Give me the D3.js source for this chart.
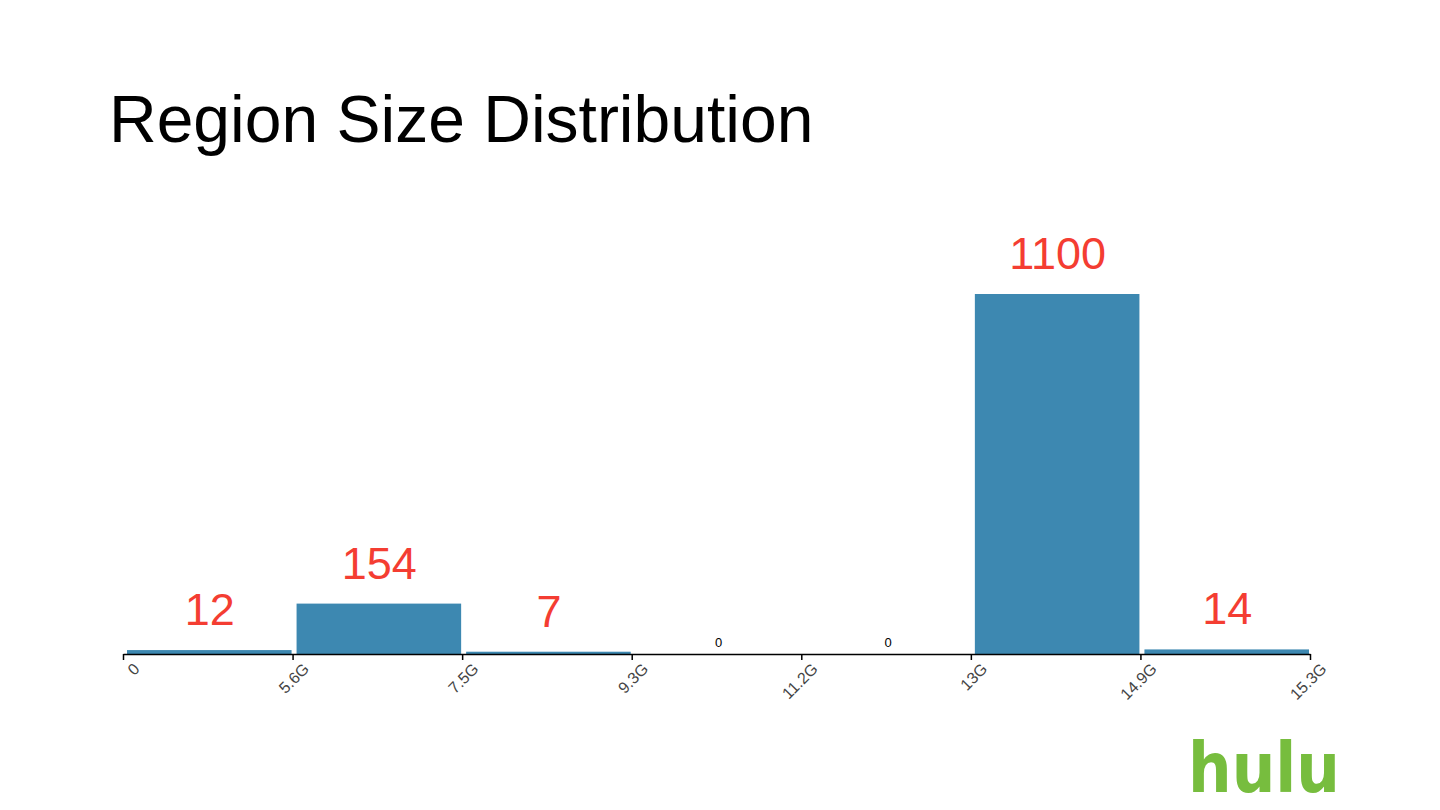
<!DOCTYPE html>
<html>
<head>
<meta charset="utf-8">
<script src="https://cdn.jsdelivr.net/npm/d3@7"></script>
<style>
  html, body { margin: 0; padding: 0; background: #fff; }
  svg { display: block; font-family: "Liberation Sans", Arial, Helvetica, sans-serif; }
</style>
</head>
<body>
<script>
// bin edges (tick labels) and counts per bin
var binEdges = ["0", "5.6G", "7.5G", "9.3G", "11.2G", "13G", "14.9G", "15.3G"];
var binCounts = [12, 154, 7, 0, 0, 1100, 14];
var titleText = "Region Size Distribution";

var width = 1440, height = 810;
var svg = d3.select("body").append("svg").attr("width", width).attr("height", height);

// title
svg.append("text")
    .attr("x", 109).attr("y", 142)
    .style("font-size", "66px")
    .style("fill", "#000")
    .text(titleText);

var x = d3.scalePoint().domain(binEdges).range([123, 1310]);
var y = d3.scaleLinear().domain([0, 1100]).range([654, 294]);

var bins = binCounts.map(function(c, i) {
    return { from: binEdges[i], to: binEdges[i + 1], count: c };
});

// bars
svg.selectAll(".bar")
    .data(bins)
    .enter().append("rect")
    .attr("class", "bar")
    .attr("x", function(d) { return x(d.from) + 4; })
    .attr("width", function(d) { return x(d.to) - x(d.from) - 5; })
    .attr("y", function(d) { return y(d.count); })
    .attr("height", function(d) { return y(0) - y(d.count); })
    .style("fill", "#3d88b1");

// x axis
var axis = svg.append("g")
    .attr("transform", "translate(0," + y(0) + ")")
    .call(d3.axisBottom(x).tickSize(6).tickSizeOuter(0));
axis.attr("font-size", null);
axis.select(".domain").style("stroke", "#000").style("stroke-width", 1.5);
axis.selectAll(".tick line").style("stroke", "#000").style("stroke-width", 1.5);
axis.selectAll(".tick text")
    .attr("x", 0).attr("y", 0).attr("dy", 0)
    .attr("text-anchor", "end")
    .attr("transform", "translate(17,16) rotate(-45)")
    .style("font-size", "16px")
    .style("fill", "#444")
    .style("font-family", "'Liberation Sans', Arial, sans-serif");

// count labels
svg.selectAll(".count")
    .data(bins)
    .enter().append("text")
    .attr("class", "count")
    .attr("text-anchor", "middle")
    .attr("x", function(d) { return (x(d.from) + x(d.to)) / 2 + 2; })
    .attr("y", function(d) { return d.count > 0 ? y(d.count) - 25 : y(0) - 7; })
    .style("font-size", function(d) { return d.count > 0 ? "45px" : "13px"; })
    .style("fill", function(d) { return d.count > 0 ? "#f43d32" : "#000"; })
    .text(function(d) { return d.count; });

// logo
svg.append("text")
    .attr("x", 1188).attr("y", 792)
    .attr("textLength", 152)
    .attr("lengthAdjust", "spacingAndGlyphs")
    .style("font-family", "'DejaVu Sans', sans-serif")
    .style("font-weight", "bold")
    .style("font-size", "70px")
    .style("fill", "#77bd3e")
    .text("hulu");
</script>
</body>
</html>
